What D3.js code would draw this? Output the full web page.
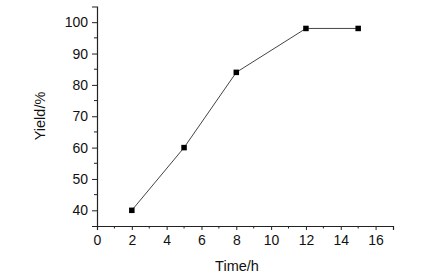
<!DOCTYPE html>
<html><head><meta charset="utf-8">
<script src="https://cdn.jsdelivr.net/npm/d3@7"></script>
<style>
html,body{margin:0;padding:0;background:#fff;}
svg{display:block;}
text{font-family:"Liberation Sans",Arial,sans-serif;fill:#111;}
</style></head>
<body>
<svg id="c" width="424" height="279"></svg>
<script>
const timeH = [2, 5, 8, 12, 15];
const yieldPct = [40, 60, 84, 98, 98];
const xTicks = [0, 2, 4, 6, 8, 10, 12, 14, 16];
const yTicks = [40, 50, 60, 70, 80, 90, 100];
const xLabel = "Time/h";
const yLabel = "Yield/%";

const svg = d3.select("#c");
const x = d3.scaleLinear().domain([0, 17]).range([97, 393]);
const y = d3.scaleLinear().domain([35, 105]).range([226, 6.5]);
const axisColor = "#222";

// minor ticks
const xMinor = d3.range(1, 17, 2);
const yMinor = d3.range(45, 105, 10);
const gx = svg.append("g").attr("transform", "translate(0,226)");
gx.call(d3.axisBottom(x).tickValues(xTicks).tickSize(4).tickPadding(5).tickFormat(d3.format("d")));
gx.selectAll("line.minor").data(xMinor).enter().append("line")
  .attr("x1", d => x(d)).attr("x2", d => x(d)).attr("y1", 0).attr("y2", 2.5)
  .attr("stroke", axisColor);
const gy = svg.append("g").attr("transform", "translate(97,0)");
gy.call(d3.axisLeft(y).tickValues(yTicks).tickSize(5).tickPadding(4).tickFormat(d3.format("d")));
gy.selectAll("line.minor").data(yMinor).enter().append("line")
  .attr("x1", 0).attr("x2", -3).attr("y1", d => y(d)).attr("y2", d => y(d))
  .attr("stroke", axisColor);
[gx, gy].forEach(g => {
  g.select(".domain").attr("stroke", axisColor).attr("stroke-width", 1.2);
  g.selectAll(".tick line").attr("stroke", axisColor);
  g.selectAll(".tick text").attr("font-size", 14).attr("font-family", "'Liberation Sans',Arial,sans-serif").attr("fill", "#111");
});

const pts = timeH.map((t, i) => [t, yieldPct[i]]);
svg.append("path").datum(pts)
  .attr("d", d3.line().x(d => x(d[0])).y(d => y(d[1])))
  .attr("fill", "none").attr("stroke", "#444").attr("stroke-width", 1);
const s = 5.5;
svg.selectAll("rect.pt").data(pts).enter().append("rect")
  .attr("x", d => x(d[0]) - s / 2).attr("y", d => y(d[1]) - s / 2)
  .attr("width", s).attr("height", s).attr("fill", "#000");

svg.append("text").attr("x", 237).attr("y", 271).attr("text-anchor", "middle")
  .attr("font-size", 14.5).text(xLabel);
svg.append("text").attr("transform", "translate(45,116) rotate(-90)")
  .attr("text-anchor", "middle").attr("font-size", 14.5).text(yLabel);
</script>
</body></html>
